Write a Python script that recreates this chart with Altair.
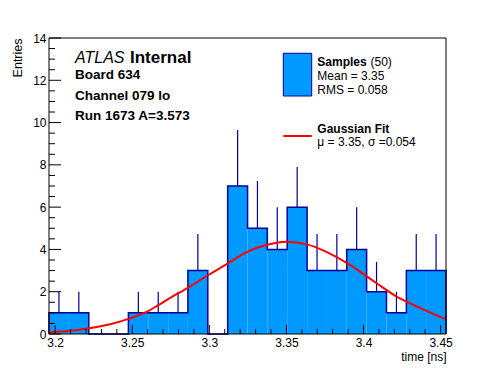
import altair as alt
import pandas as pd

# ---- data ----
bin_edges = [3.1960, 3.2089, 3.2218, 3.2346, 3.2475, 3.2604, 3.2733, 3.2861, 3.2990, 3.3119,
             3.3248, 3.3376, 3.3505, 3.3634, 3.3763, 3.3891, 3.4020, 3.4149, 3.4278, 3.4406, 3.4535]
counts = [1, 1, 0, 0, 1, 1, 1, 3, 0, 7, 5, 4, 6, 3, 3, 4, 2, 1, 3, 3]
err_top = [2, 2, 0, 0, 2, 2, 2, 4.73, 0, 9.65, 7.24, 6, 7.9, 4.73, 4.73, 6, 3.41, 2, 4.73, 4.73]

fit_x = [3.1960, 3.2100, 3.2220, 3.2350, 3.2485, 3.2600, 3.2669, 3.2799, 3.2863, 3.2993, 3.3123, 3.3248,
         3.3376, 3.3500, 3.3634, 3.3763, 3.3891, 3.3977, 3.4085, 3.4215, 3.4280, 3.4409, 3.4528]
fit_y = [0.08, 0.15, 0.27, 0.45, 0.74, 1.07, 1.37, 1.93, 2.19, 2.79, 3.35, 3.90,
         4.22, 4.36, 4.24, 3.87, 3.36, 2.95, 2.40, 1.77, 1.53, 1.09, 0.71]

y_major = [0, 2, 4, 6, 8, 10, 12, 14]
y_minor = [0.5, 1, 1.5, 2.5, 3, 3.5, 4.5, 5, 5.5, 6.5, 7, 7.5, 8.5, 9, 9.5,
           10.5, 11, 11.5, 12.5, 13, 13.5]
x_major = [3.2, 3.25, 3.3, 3.35, 3.4, 3.45]
x_minor = [3.21, 3.22, 3.23, 3.24, 3.26, 3.27, 3.28, 3.29, 3.31, 3.32, 3.33, 3.34,
           3.36, 3.37, 3.38, 3.39, 3.41, 3.42, 3.43, 3.44]

x_domain = [3.1960, 3.4535]
y_domain = [0, 14]

W, H = 397, 296
FONT = "Liberation Sans"
FILL = "#0099ff"
NAVY = "#000099"

# ---- tables ----
bins = pd.DataFrame({
    "lo": bin_edges[:-1],
    "hi": bin_edges[1:],
    "count": counts,
    "err": err_top,
})
bins["center"] = (bins["lo"] + bins["hi"]) / 2

outline_x = [bin_edges[0]] + bin_edges[:-1] + [bin_edges[-1]]
outline_y = [0] + counts + [0]
outline = pd.DataFrame({"lo": outline_x, "count": outline_y, "idx": list(range(len(outline_x)))})

errs = bins[bins["count"] > 0]
fit = pd.DataFrame({"lo": fit_x, "count": fit_y})

xs = alt.Scale(domain=x_domain, nice=False, zero=False)
ys = alt.Scale(domain=y_domain, nice=False, zero=False)

ax_x = alt.Axis(
    values=x_major, format=".2~f", ticks=False, domain=False, grid=False,
    labelFlush=False, labelOverlap=False, labelPadding=3,
    labelFont=FONT, labelFontSize=12, labelColor="black",
    title="time [ns]", titleAnchor="end", titleFont=FONT, titleFontSize=12,
    titleFontWeight="normal", titleColor="black", titlePadding=3)
ax_y = alt.Axis(
    values=y_major, ticks=False, domain=False, grid=False,
    labelFlush=False, labelOverlap=False, labelPadding=3,
    labelFont=FONT, labelFontSize=12, labelColor="black",
    title="Entries", titleAnchor="end", titleFont=FONT, titleFontSize=12.5,
    titleFontWeight="normal", titleColor="black", titlePadding=8)

X = lambda f: alt.X(f, scale=xs, axis=ax_x)
Y = lambda f: alt.Y(f, scale=ys, axis=ax_y)

fill = alt.Chart(outline).mark_area(color=FILL, interpolate="step-after", opacity=1).encode(
    x=X("lo:Q"), y=Y("count:Q"), order="idx:Q")

step = alt.Chart(outline).mark_line(color=NAVY, strokeWidth=1.5, interpolate="step-after").encode(
    x=X("lo:Q"), y=Y("count:Q"), order="idx:Q")

errbars = alt.Chart(errs).mark_rule(color=NAVY, strokeWidth=1.2).encode(
    x=alt.X("center:Q", scale=xs, axis=ax_x), y=Y("count:Q"), y2="err:Q")

curve = alt.Chart(fit).mark_line(color="#ff0000", strokeWidth=2, interpolate="monotone").encode(
    x=X("lo:Q"), y=Y("count:Q"))

def tick_layer(vals, channel, length):
    df = pd.DataFrame({"lo": vals, "count": vals})
    if channel == "y":
        return alt.Chart(df).mark_rule(color="black", strokeWidth=1).encode(
            y=Y("count:Q"), x=alt.value(0), x2=alt.value(length))
    return alt.Chart(df).mark_rule(color="black", strokeWidth=1).encode(
        x=X("lo:Q"), y=alt.value(H), y2=alt.value(H - length))

ticks = [
    tick_layer(y_major, "y", 12),
    tick_layer(y_minor, "y", 6),
    tick_layer(x_major, "x", 9),
    tick_layer(x_minor, "x", 5),
]

frame = alt.Chart(alt.Data(values=[{}])).mark_rect(
    fillOpacity=0, stroke="black", strokeWidth=1).encode(
    x=alt.value(0), x2=alt.value(W), y=alt.value(0), y2=alt.value(H))

def txt(s, px, py, size, weight="normal", style="normal"):
    return alt.Chart(alt.Data(values=[{}])).mark_text(
        align="left", baseline="alphabetic", font=FONT, fontSize=size,
        fontWeight=weight, fontStyle=style, color="black").encode(
        x=alt.value(px), y=alt.value(py), text=alt.value(s))

texts = [
    txt("ATLAS", 26, 24.5, 16, style="italic"),
    txt("Internal", 81, 24.5, 17, weight="bold"),
    txt("Board 634", 26, 40.5, 13.5, weight="bold"),
    txt("Channel 079 lo", 26, 62, 13.5, weight="bold"),
    txt("Run 1673 A=3.573", 26, 82, 13.5, weight="bold"),
    txt("Samples", 268.3, 28, 12, weight="bold"),
    txt("(50)", 321.5, 28, 12),
    txt("Mean = 3.35", 268.3, 42.3, 12),
    txt("RMS = 0.058", 268.3, 56.3, 12),
    txt("Gaussian Fit", 268.3, 94.7, 12, weight="bold"),
    txt("\u03bc = 3.35, \u03c3 =0.054", 268.3, 107.5, 12),
]

leg_box = alt.Chart(alt.Data(values=[{}])).mark_rect(
    color=FILL, stroke=NAVY, strokeWidth=1).encode(
    x=alt.value(234.3), x2=alt.value(262.7), y=alt.value(15.3), y2=alt.value(58))
leg_line = alt.Chart(alt.Data(values=[{}])).mark_rule(color="#ff0000", strokeWidth=2).encode(
    x=alt.value(234.3), x2=alt.value(262.7), y=alt.value(98))

chart = alt.layer(
    fill, step, errbars, curve, *ticks, frame, leg_box, leg_line, *texts
).properties(
    width=W, height=H,
    autosize=alt.AutoSizeParams(type="none"),
    padding={"left": 41, "top": 30, "right": 38, "bottom": 30},
    background="white",
).configure_view(stroke=None)

chart.save("out.html", embed_options={"renderer": "svg", "actions": False})
